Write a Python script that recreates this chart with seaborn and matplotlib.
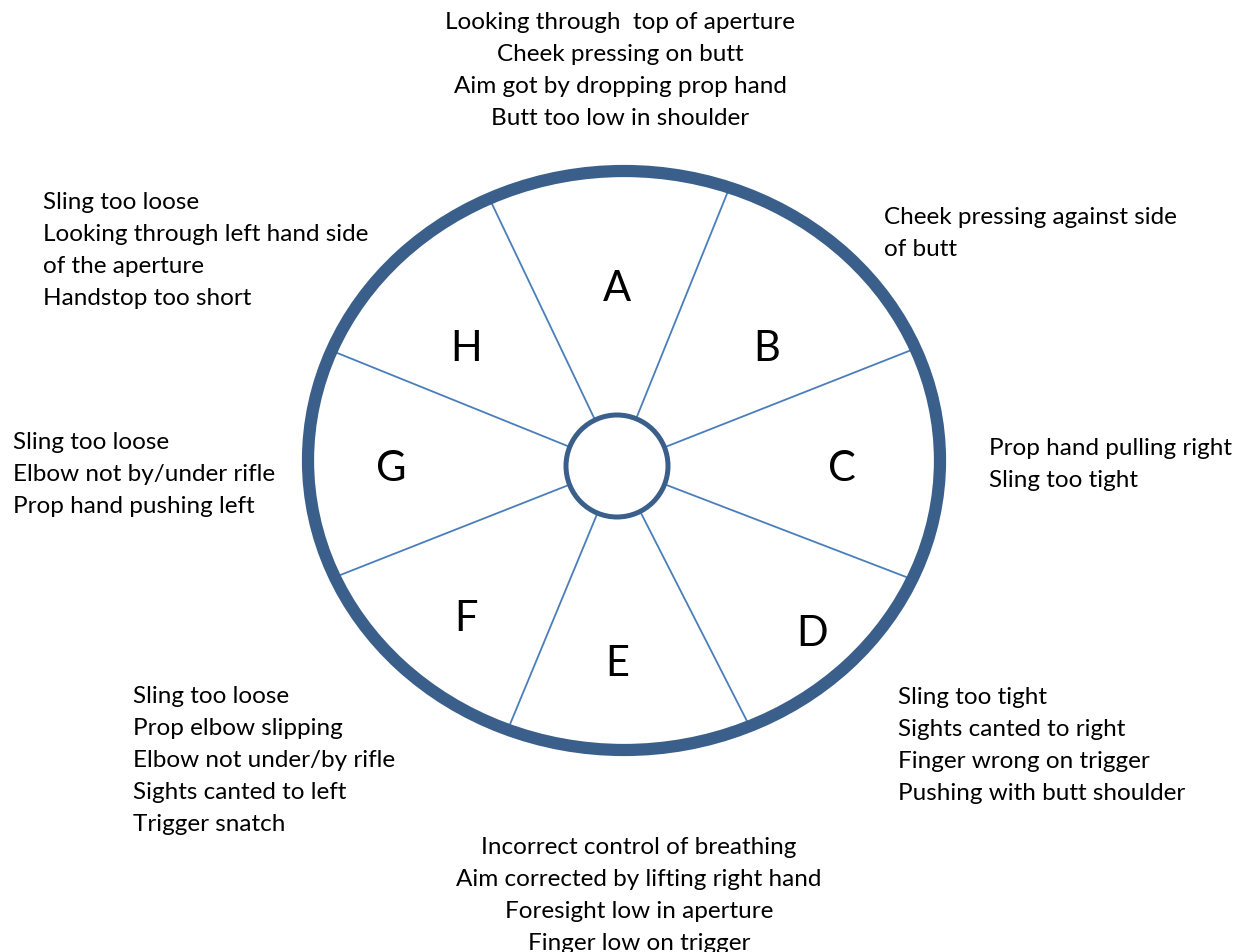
import numpy as np
import matplotlib
matplotlib.use("Agg")
import matplotlib.pyplot as plt
from matplotlib.patches import Ellipse
import seaborn as sns

# ---- data ----
sectors = ["A", "B", "C", "D", "E", "F", "G", "H"]
spoke_angles = [115.5, 68.0, 21.5, -21.0, -63.0, -112.5, 201.5, 158.0]  # degrees, screen-up positive

faults_top = ["Looking through  top of aperture", "Cheek pressing on butt",
              "Aim got by dropping prop hand", "Butt too low in shoulder"]
faults_top_left = ["Sling too loose", "Looking through left hand side",
                   "of the aperture", "Handstop too short"]
faults_top_right = ["Cheek pressing against side", "of butt"]
faults_left = ["Sling too loose", "Elbow not by/under rifle", "Prop hand pushing left"]
faults_right = ["Prop hand pulling right", "Sling too tight"]
faults_bottom_left = ["Sling too loose", "Prop elbow slipping", "Elbow not under/by rifle",
                      "Sights canted to left", "Trigger snatch"]
faults_bottom_right = ["Sling too tight", "Sights canted to right",
                       "Finger wrong on trigger", "Pushing with butt shoulder"]
faults_bottom = ["Incorrect control of breathing", "Aim corrected by lifting right hand",
                 "Foresight low in aperture", "Finger low on trigger"]

# ---- style ----
sns.set_theme(style="white")
plt.rcParams["font.family"] = ["Lato", "DejaVu Sans"]

W, H = 1239, 953
fig = plt.figure(figsize=(W / 100, H / 100), dpi=100)
ax = fig.add_axes([0, 0, 1, 1])
ax.set_xlim(0, W)
ax.set_ylim(H, 0)
ax.axis("off")

ring_col = "#3A5F8B"
spoke_col = "#4A7EBB"

# outer ring
ocx, ocy, orx, ory = 624, 461.5, 316, 289.5
ax.add_patch(Ellipse((ocx, ocy), 2 * orx, 2 * ory, fill=False, ec=ring_col, lw=8.8, zorder=3))
# inner ring
icx, icy, ir = 617, 467, 51
ax.add_patch(Ellipse((icx, icy), 2 * ir, 2 * ir, fill=False, ec=ring_col, lw=3.6, zorder=3))

# spokes
for a in spoke_angles:
    t = np.deg2rad(a)
    dx, dy = np.cos(t), -np.sin(t)
    px, py = icx - ocx, icy - ocy
    A = (dx / orx) ** 2 + (dy / ory) ** 2
    B = 2 * (px * dx / orx ** 2 + py * dy / ory ** 2)
    C = (px / orx) ** 2 + (py / ory) ** 2 - 1
    s = (-B + np.sqrt(B * B - 4 * A * C)) / (2 * A)
    x0, y0 = icx + ir * dx, icy + ir * dy
    x1, y1 = icx + s * dx, icy + s * dy
    sns.lineplot(x=[x0, x1], y=[y0, y1], ax=ax, color=spoke_col, lw=1.3, sort=False,
                 estimator=None, zorder=2)

# sector letters
letter_pos = [(617, 289), (767, 349), (842, 469), (812, 634),
              (617, 664), (466, 619), (391, 469), (466, 349)]
for lab, (x, y) in zip(sectors, letter_pos):
    ax.text(x, y, lab, fontsize=30, ha="center", va="center", color="black", zorder=4)

fs = 17.5
lh = 32
dy_txt = 2.5

def block(lines, x, y0, ha):
    for i, t in enumerate(lines):
        ax.text(x, y0 + dy_txt + i * lh, t, fontsize=fs, ha=ha, va="center", color="black")

block(faults_top, 620, 20, "center")
block(faults_top_left, 43, 200, "left")
block(faults_top_right, 884, 215, "left")
block(faults_left, 13, 440, "left")
block(faults_right, 989, 446, "left")
block(faults_bottom_left, 133, 694, "left")
block(faults_bottom_right, 898, 695, "left")
block(faults_bottom, 639, 845, "center")

fig.savefig("out.png", dpi=100)
